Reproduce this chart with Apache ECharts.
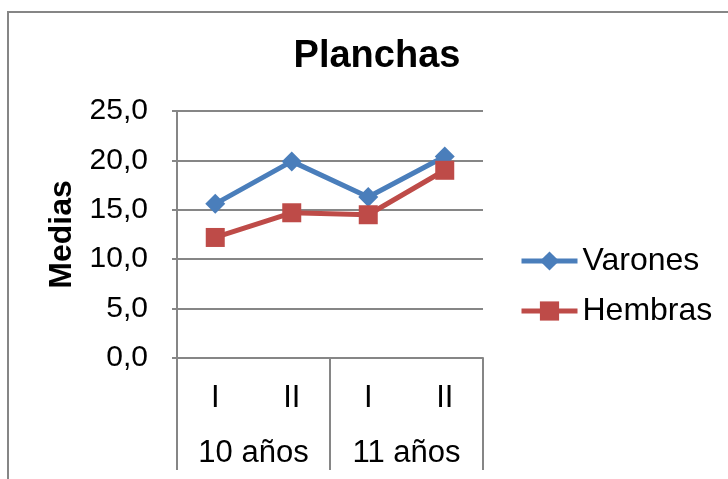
<!DOCTYPE html>
<html>
<head>
<meta charset="utf-8">
<script src="https://cdn.jsdelivr.net/npm/echarts@6/dist/echarts.min.js"></script>
<style>
html,body{margin:0;padding:0;background:#fff;}
#chart{width:728px;height:479px;}
</style>
</head>
<body>
<div id="chart"></div>
<script>
const subCategories = ['I', 'II', 'I', 'II'];
const groupCategories = ['10 años', '11 años'];
const varones = [15.6, 19.9, 16.3, 20.4];
const hembras = [12.2, 14.7, 14.5, 19.0];
const yTicks = [0, 5, 10, 15, 20, 25];

const FONT = "'Liberation Sans', Arial, sans-serif";
const GRAY = '#868686';
const BLUE = '#4A7EBB';
const RED = '#BE4B48';
const chart = echarts.init(document.getElementById('chart'), null, {renderer: 'canvas'});
chart.setOption({
  animation: false,
  backgroundColor: '#fff',
  title: {
    text: 'Planchas', left: 372, top: 33, textAlign: 'center',
    textStyle: {fontFamily: FONT, fontWeight: 'bold', fontSize: 38, color: '#000'}
  },
  graphic: [{
    type: 'rect', shape: {x: 8, y: 12, width: 760, height: 520},
    style: {fill: 'none', stroke: GRAY, lineWidth: 2}, silent: true, z: -1
  }],
  legend: {
    orient: 'vertical', left: 514, top: 240,
    itemWidth: 56, itemHeight: 24, itemGap: 18,
    textStyle: {fontFamily: FONT, fontSize: 32, color: '#000', lineHeight: 32},
    data: [
      {name: 'Varones', lineStyle: {width: 5, color: BLUE}, itemStyle: {color: BLUE}},
      {name: 'Hembras', lineStyle: {width: 5, color: RED}, itemStyle: {color: RED}}
    ]
  },
  grid: {left: 177, right: 245, top: 111, bottom: 121, containLabel: false},
  xAxis: [{
    type: 'category', data: subCategories, boundaryGap: true, position: 'bottom',
    axisLine: {show: true, lineStyle: {color: GRAY, width: 2}},
    axisTick: {show: false},
    axisLabel: {fontFamily: FONT, fontSize: 31, color: '#000', margin: 25, interval: 0}
  }, {
    type: 'category', data: groupCategories, boundaryGap: true, position: 'bottom', offset: 0,
    axisLine: {show: false},
    axisTick: {show: true, length: 112, interval: 0, lineStyle: {color: GRAY, width: 2}},
    axisLabel: {fontFamily: FONT, fontSize: 31, color: '#000', margin: 80, interval: 0}
  }],
  yAxis: {
    type: 'value', min: yTicks[0], max: yTicks[yTicks.length - 1], interval: 5,
    name: 'Medias', nameLocation: 'middle', nameRotate: 90, nameGap: 99,
    nameTextStyle: {fontFamily: FONT, fontWeight: 'bold', fontSize: 32, color: '#000'},
    axisLine: {show: true, lineStyle: {color: GRAY, width: 2}},
    axisTick: {show: true, length: 5, lineStyle: {color: GRAY, width: 2}},
    axisLabel: {fontFamily: FONT, fontSize: 30, color: '#000', margin: 29,
      formatter: v => v.toFixed(1).replace('.', ',')},
    splitLine: {show: true, lineStyle: {color: GRAY, width: 2}}
  },
  series: [{
    name: 'Varones', type: 'line', data: varones, xAxisIndex: 0,
    symbol: 'diamond', symbolSize: 20,
    lineStyle: {color: BLUE, width: 5},
    itemStyle: {color: BLUE}
  }, {
    name: 'Hembras', type: 'line', data: hembras, xAxisIndex: 0,
    symbol: 'rect', symbolSize: 19,
    lineStyle: {color: RED, width: 5},
    itemStyle: {color: RED}
  }]
});
</script>
</body>
</html>
